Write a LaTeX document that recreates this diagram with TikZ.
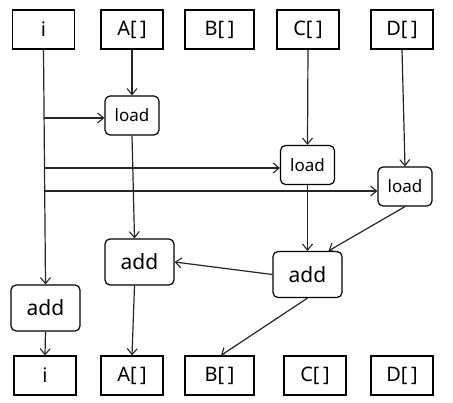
\documentclass[tikz,border=0pt]{standalone}
\usepackage{fontspec}
\setmainfont{Noto Sans}
\usetikzlibrary{arrows.meta,calc}
\newcommand{\brk}{[\hspace{3.5pt}]}
\tikzset{
  box/.style={draw=black, line width=1.2pt, inner sep=0pt, minimum width=62pt, minimum height=39pt, font=\fontsize{20}{22}\selectfont},
  wbox/.style={box, minimum width=69pt},
  op/.style={draw=black, line width=1.2pt, rounded corners=5pt, inner sep=0pt, minimum width=54pt, minimum height=39pt, font=\fontsize{17}{18}\selectfont},
  addop/.style={op, minimum width=69pt, minimum height=46pt, font=\fontsize{21}{22}\selectfont},
  conn/.style={draw=black!85, line width=1.2pt, -{Straight Barb[length=6pt,width=10pt,line width=1.1pt]}},
}
\begin{document}
\begin{tikzpicture}[x=1pt,y=-1pt]
\fill[white] (0,0) rectangle (453,403);
\useasboundingbox (0,0) rectangle (453,403);
% top row
\node[box] (it) at (43.5,29.5) {i};
\node[box] (at) at (132,29.5) {A\brk};
\node[wbox] (bt) at (219.5,29.5) {B\brk};
\node[box] (ct) at (308,29.5) {C\brk};
\node[box] (dt) at (402,29.5) {D\brk};
% bottom row
\node[box] (ib) at (45,375.5) {i};
\node[box] (ab) at (132,375.5) {A\brk};
\node[wbox] (bb) at (219.5,375.5) {B\brk};
\node[box] (cb) at (315,375.5) {C\brk};
\node[box] (db) at (402,375.5) {D\brk};
% ops
\node[op] (l1) at (132,115.5) {load};
\node[op] (l2) at (307.5,165) {load};
\node[op] (l3) at (405,186.5) {load};
\node[addop] (a1) at (45.5,308) {add};
\node[addop] (a2) at (139.5,262) {add};
\node[addop] (a3) at (307.5,274.5) {add};
% connectors
\coordinate (s1) at (44,118);
\coordinate (s2) at (44,168);
\coordinate (s3) at (44,191);
\draw[conn] (it.south) -- (a1.north);
\draw[conn] (s1) -- (s1 -| l1.west);
\draw[conn] (s2) -- (s2 -| l2.west);
\draw[conn] (s3) -- (s3 -| l3.west);
\draw[conn] (at.south) -- (l1.north);
\draw[conn] (ct.south) -- (l2.north);
\draw[conn] (dt.south) -- (l3.north);
\draw[conn] (l1.south) -- ([xshift=-5pt]a2.north);
\draw[conn] (l2.south) -- (a3.north);
\draw[conn] (l3.south) -- ([xshift=21pt]a3.north);
\draw[conn] (a3.west) -- (a2.east);
\draw[conn] ([xshift=-5pt]a2.south) -- (ab.north);
\draw[conn] (a3.south) -- ([xshift=1.5pt]bb.north);
\draw[conn] (a1.south) -- (ib.north);
\end{tikzpicture}
\end{document}
